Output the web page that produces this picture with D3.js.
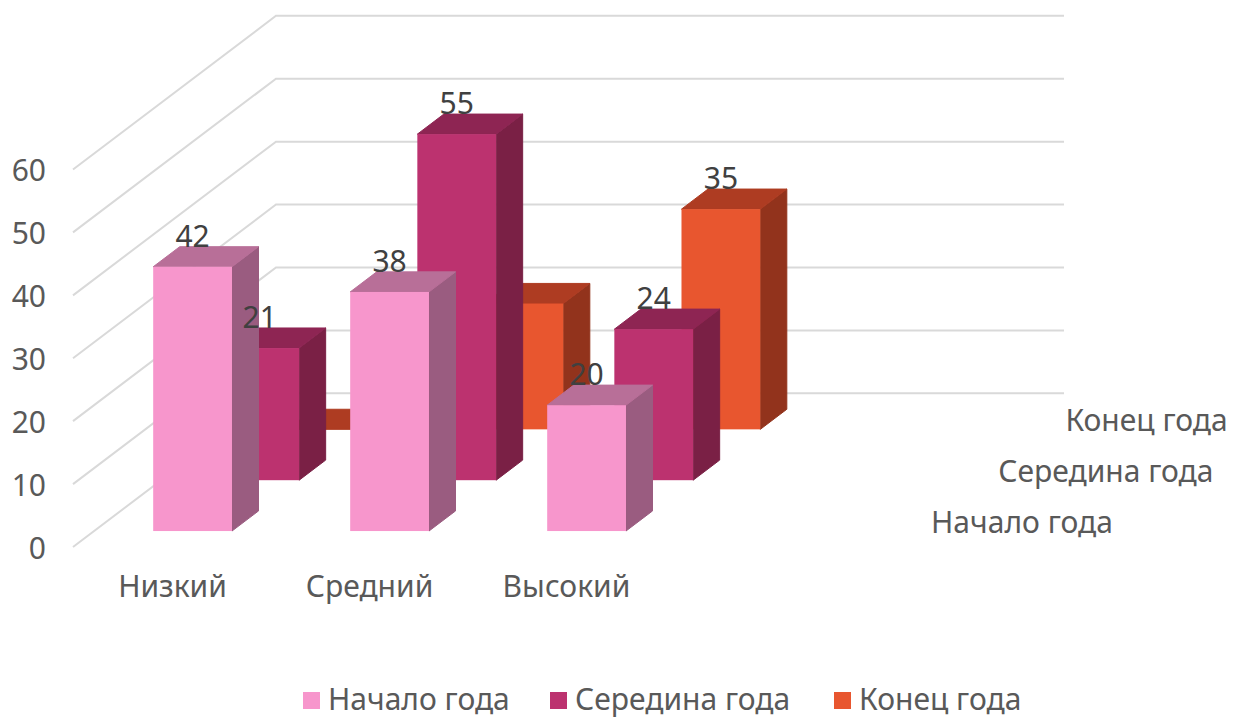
<!DOCTYPE html>
<html lang="ru">
<head>
<meta charset="utf-8">
<title>Начало, середина и конец года</title>
<script src="https://d3js.org/d3.v7.min.js"></script>
<style>
  html, body { margin: 0; background: #fff; }
  svg { display: block; }
  text {
    font-family: "Noto Sans", sans-serif;
    font-size: 30px;
    fill: #595959;
  }
  text.value { fill: #404040; }
</style>
</head>
<body>
<svg width="1235" height="719"></svg>
<script>
// chart values
const categories = ["Низкий", "Средний", "Высокий", ""];
const seriesNames = ["Начало года", "Середина года", "Конец года"];
const startOfYear = [42, 38, 20];
const midYear = [21, 55, 24];
const endOfYear = [0, 20, 35];
const yTicks = [0, 10, 20, 30, 40, 50, 60];
// the source chart shows no label on these two bars
const endOfYearLabels = [false, false, true];
const startOfYearLabels = [true, true, true];
const midYearLabels = [true, true, true];

const frontColors = ["#F796CC", "#BC326F", "#E8562F"];
const topColors = ["#B86F98", "#8E2553", "#AE3C22"];
const sideColors = ["#9A5C80", "#7A2045", "#92331C"];

const seriesValues = [startOfYear, midYear, endOfYear];
const seriesLabels = [startOfYearLabels, midYearLabels, endOfYearLabels];

const svg = d3.select("svg");

// oblique projection: front wall plus a shift for depth 0..1
const floorY = 547, depthX = 203, depthY = 153.7;
const px = (x, d) => x + depthX * d;
const py = (v, d) => y(v) - depthY * d;

const x = d3.scaleBand().domain(categories).range([73, 861])
  .paddingInner(0.6).paddingOuter(0.3);
const depth = d3.scaleBand().domain(seriesNames).range([0, 1])
  .paddingInner(0.605).paddingOuter(0.314);
const y = d3.scaleLinear().domain([0, 60]).range([floorY, floorY - 377.5]);

//gridlines: side wall then back wall
const line = d3.line();
svg.append("g").selectAll("path")
  .data(yTicks)
  .join("path")
  .attr("d", t => line([[px(x.range()[0], 0), py(t, 0)], [px(x.range()[0], 1), py(t, 1)], [px(x.range()[1], 1), py(t, 1)]]))
  .attr("fill", "none")
  .attr("stroke", "#d9d9d9")
  .attr("stroke-width", 2);

// bars, back row first so the front rows cover them
const poly = pts => pts.map(p => p.join(",")).join(" ");
const rows = d3.range(seriesNames.length).reverse();

rows.forEach(s => {
  const name = seriesNames[s];
  const d0 = depth(name), d1 = d0 + depth.bandwidth();
  const g = svg.append("g");
  const bars = g.selectAll("g")
    .data(seriesValues[s].map((v, i) => ({ v, cat: categories[i] })))
    .join("g");

  // right side, stroked so no seam shows against the front face
  bars.append("polygon")
    .attr("points", b => {
      const r = x(b.cat) + x.bandwidth();
      return poly([[px(r, d0), py(0, d0)], [px(r, d1), py(0, d1)], [px(r, d1), py(b.v, d1)], [px(r, d0), py(b.v, d0)]]);
    })
    .attr("fill", sideColors[s])
    .attr("stroke", sideColors[s]);

  // top
  bars.append("polygon")
    .attr("points", b => {
      const l = x(b.cat), r = l + x.bandwidth();
      return poly([[px(l, d0), py(b.v, d0)], [px(r, d0), py(b.v, d0)], [px(r, d1), py(b.v, d1)], [px(l, d1), py(b.v, d1)]]);
    })
    .attr("fill", topColors[s])
    .attr("stroke", topColors[s]);

  // front
  bars.append("rect")
    .attr("x", b => px(x(b.cat), d0))
    .attr("y", b => py(b.v, d0))
    .attr("width", x.bandwidth())
    .attr("height", b => y(0) - y(b.v))
    .attr("fill", frontColors[s]);
});

// value labels sit above everything
rows.forEach(s => {
  const d0 = depth(seriesNames[s]);
  svg.append("g").selectAll("text")
    .data(seriesValues[s].map((v, i) => ({ v, cat: categories[i], show: seriesLabels[s][i] })).filter(b => b.show))
    .join("text")
    .attr("class", "value")
    .attr("text-anchor", "middle")
    .attr("x", b => px(x(b.cat) + x.bandwidth() / 2, d0))
    .attr("y", b => py(b.v, d0) - 20)
    .text(b => b.v);
});

// value axis
const yAxis = svg.append("g")
  .attr("transform", "translate(46,1.5)")
  .call(d3.axisLeft(y).tickValues(yTicks).tickSize(0).tickPadding(0));
yAxis.select(".domain").remove();

// category axis
const xAxis = svg.append("g")
  .attr("transform", "translate(1,597)")
  .call(d3.axisBottom(x).tickSize(0).tickPadding(0));
xAxis.select(".domain").remove();
xAxis.selectAll("text").attr("dy", 0);

// depth axis labels on the right
svg.append("g").selectAll("text")
  .data(seriesNames)
  .join("text")
  .attr("x", n => px(x.range()[1] + 49, depth(n)))
  .attr("y", n => py(0, depth(n)) + 2)
  .text(n => n);

// legend
const legendX = d3.scaleOrdinal().domain(seriesNames).range([303, 550, 834]);
const legend = svg.append("g").selectAll("g")
  .data(seriesNames)
  .join("g")
  .attr("transform", n => `translate(${legendX(n)},692)`);
legend.append("rect")
  .attr("width", 17)
  .attr("height", 17)
  .attr("fill", (n, i) => frontColors[i]);
legend.append("text")
  .attr("x", 25)
  .attr("y", 18)
  .text(n => n);
</script>
</body>
</html>
